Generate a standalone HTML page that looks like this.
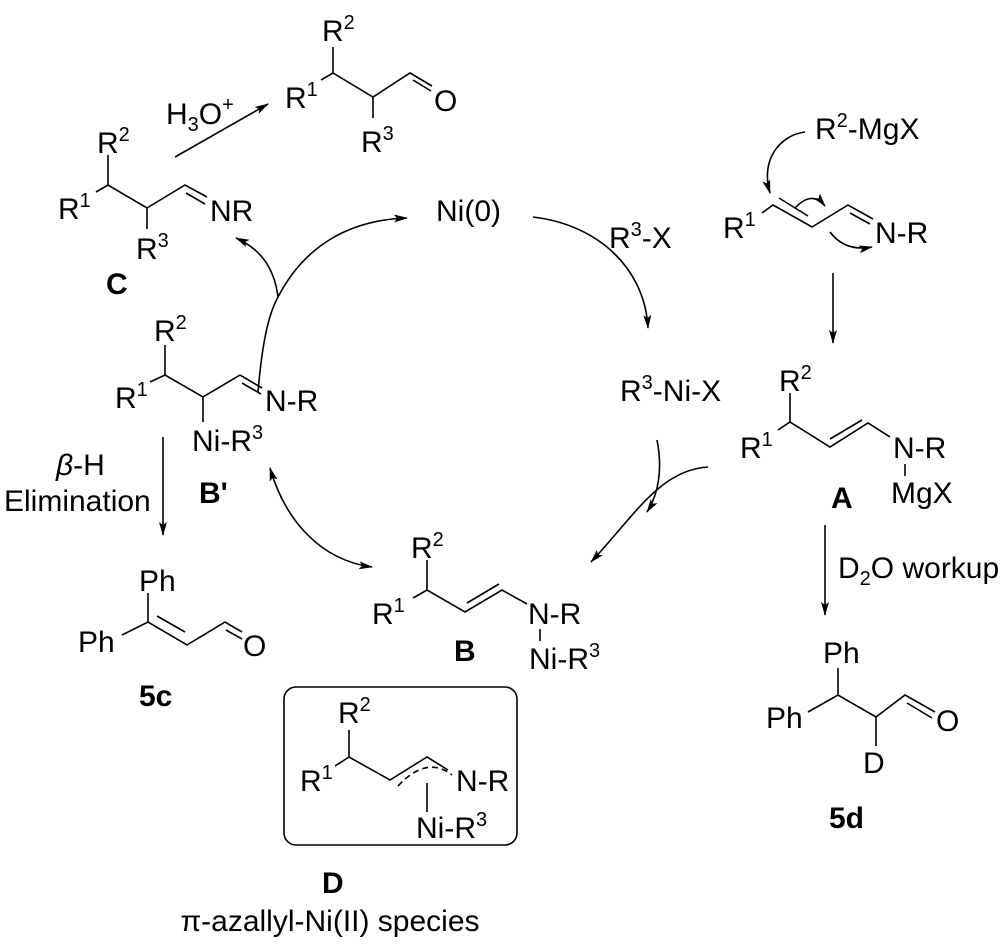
<!DOCTYPE html>
<html><head><meta charset="utf-8"><style>
html,body{margin:0;padding:0;background:#fff}
svg{display:block}
text{font-family:"Liberation Sans",Arial,sans-serif;font-size:30px;fill:#000}
.s{font-size:20px}
.b{font-weight:bold}
</style></head><body>
<svg width="1000" height="945" viewBox="0 0 1000 945" xmlns="http://www.w3.org/2000/svg">
<defs>
<marker id="ah" viewBox="0 0 14 8" refX="13" refY="4" markerWidth="14" markerHeight="8" markerUnits="userSpaceOnUse" orient="auto-start-reverse">
<path d="M0,0 L14,4 L0,8 L3,4 z" fill="#000"/></marker>
</defs>
<g fill="none" stroke="#000" stroke-width="1.6">
<path d="M333,47 L333,73 M321,80 L333,73 L373,97 L410,73 L432,86 M373,97 L373,118"/>
<path d="M413,80 L431,91"/>
<path d="M108,155 L108,185 M96,192 L108,185 L147,208 L185,185 L207,197 M147,208 L147,229 M186,193 L205,204"/>
<path d="M175,157 L268,104" marker-end="url(#ah)"/>
<path d="M165,345 L165,375 M150,382 L165,375 L203,397 L240,375 L262,388 M203,397 L203,422 M242,383 L261,394"/>
<path d="M148,593 L148,622 M122,635 L148,622 L187,645 L225,622 L242,632 M157,616 L185,632 M226,630 L242,639"/>
<path d="M762,213 L773,205 L812,227 L848,205 L873,219 M779,198 L808,216 M850,213 L870,224"/>
<path d="M790,393 L790,422 M778,430 L790,422 L830,447 L868,423 L890,437 M830,439 L862,420 M905,464 L905,476"/>
<path d="M427,560 L427,590 M413,598 L427,590 L465,612 L502,590 L527,604 M467,603 L499,584 M540,629 L540,641"/>
<rect x="284" y="687" width="233" height="158" rx="12" ry="12"/>
<path d="M349,730 L349,757 M335,766 L349,757 L390,780 L427,757 L448,770 M427,783 L427,812"/>
<path d="M398,786 Q427,755 452,775" stroke-dasharray="6,4"/>
<path d="M838,668 L838,695 M808,712 L838,695 L876,717 L905,695 L935,712 M876,717 L876,746 M907,703 L932,718"/>
<path d="M258,392 C262,345 268,315 278,297"/>
<path d="M278,297 C274,265 258,248 236,238" marker-end="url(#ah)"/>
<path d="M278,297 C305,245 350,220 407,218" marker-end="url(#ah)"/>
<path d="M533,217 C600,225 645,270 648,328" marker-end="url(#ah)"/>
<path d="M805,132 C780,135 760,160 770,193" marker-end="url(#ah)"/>
<path d="M795,208 Q812,190 825,206" marker-end="url(#ah)"/>
<path d="M830,232 Q845,252 872,247" marker-end="url(#ah)"/>
<path d="M833,273 L833,343" marker-end="url(#ah)"/>
<path d="M657,440 C663,470 658,495 647,512" marker-end="url(#ah)"/>
<path d="M708,467 C660,470 635,515 591,562" marker-end="url(#ah)"/>
<path d="M270,468 C285,520 320,560 372,567" marker-start="url(#ah)" marker-end="url(#ah)"/>
<path d="M163,437 L163,535" marker-end="url(#ah)"/>
<path d="M825,525 L825,615" marker-end="url(#ah)"/>
</g>
<text x="322" y="41">R<tspan class="s" dy="-12">2</tspan></text>
<text x="285" y="108">R<tspan class="s" dy="-12">1</tspan></text>
<text x="434" y="111">O</text>
<text x="361" y="152">R<tspan class="s" dy="-12">3</tspan></text>
<text x="166" y="124">H<tspan class="s" dy="7">3</tspan><tspan dy="-7">O</tspan><tspan class="s" dy="-13">+</tspan></text>
<text x="97" y="153">R<tspan class="s" dy="-12">2</tspan></text>
<text x="58" y="219">R<tspan class="s" dy="-12">1</tspan></text>
<text x="210" y="221">NR</text>
<text x="136" y="259">R<tspan class="s" dy="-12">3</tspan></text>
<text x="106" y="294" class="b">C</text>
<text x="436" y="221">Ni(0)</text>
<text x="609" y="248">R<tspan class="s" dy="-12">3</tspan><tspan dy="12">-X</tspan></text>
<text x="815" y="139">R<tspan class="s" dy="-12">2</tspan><tspan dy="12">-MgX</tspan></text>
<text x="723" y="238">R<tspan class="s" dy="-12">1</tspan></text>
<text x="875" y="243">N-R</text>
<text x="620" y="401">R<tspan class="s" dy="-12">3</tspan><tspan dy="12">-Ni-X</tspan></text>
<text x="779" y="391">R<tspan class="s" dy="-12">2</tspan></text>
<text x="740" y="458">R<tspan class="s" dy="-12">1</tspan></text>
<text x="893" y="458">N-R</text>
<text x="891" y="503">MgX</text>
<text x="831" y="508" class="b">A</text>
<text x="154" y="341">R<tspan class="s" dy="-12">2</tspan></text>
<text x="115" y="408">R<tspan class="s" dy="-12">1</tspan></text>
<text x="265" y="411">N-R</text>
<text x="192" y="451">Ni-R<tspan class="s" dy="-12">3</tspan></text>
<text x="199" y="503" class="b">B'</text>
<text x="56" y="475"><tspan font-style="italic">β</tspan>-H</text>
<text x="4" y="511">Elimination</text>
<text x="139" y="591">Ph</text>
<text x="78" y="652">Ph</text>
<text x="243" y="656">O</text>
<text x="139" y="706" class="b">5c</text>
<text x="411" y="558">R<tspan class="s" dy="-12">2</tspan></text>
<text x="372" y="624">R<tspan class="s" dy="-12">1</tspan></text>
<text x="528" y="624">N-R</text>
<text x="529" y="669">Ni-R<tspan class="s" dy="-12">3</tspan></text>
<text x="454" y="661" class="b">B</text>
<text x="338" y="723">R<tspan class="s" dy="-12">2</tspan></text>
<text x="300" y="791">R<tspan class="s" dy="-12">1</tspan></text>
<text x="456" y="791">N-R</text>
<text x="416" y="838">Ni-R<tspan class="s" dy="-12">3</tspan></text>
<text x="322" y="893" class="b">D</text>
<text x="330" y="931" text-anchor="middle">π-azallyl-Ni(II) species</text>
<text x="838" y="578">D<tspan class="s" dy="7">2</tspan><tspan dy="-7">O workup</tspan></text>
<text x="823" y="663">Ph</text>
<text x="766" y="728">Ph</text>
<text x="936" y="731">O</text>
<text x="863" y="773">D</text>
<text x="829" y="828" class="b">5d</text>
</svg>
</body></html>
